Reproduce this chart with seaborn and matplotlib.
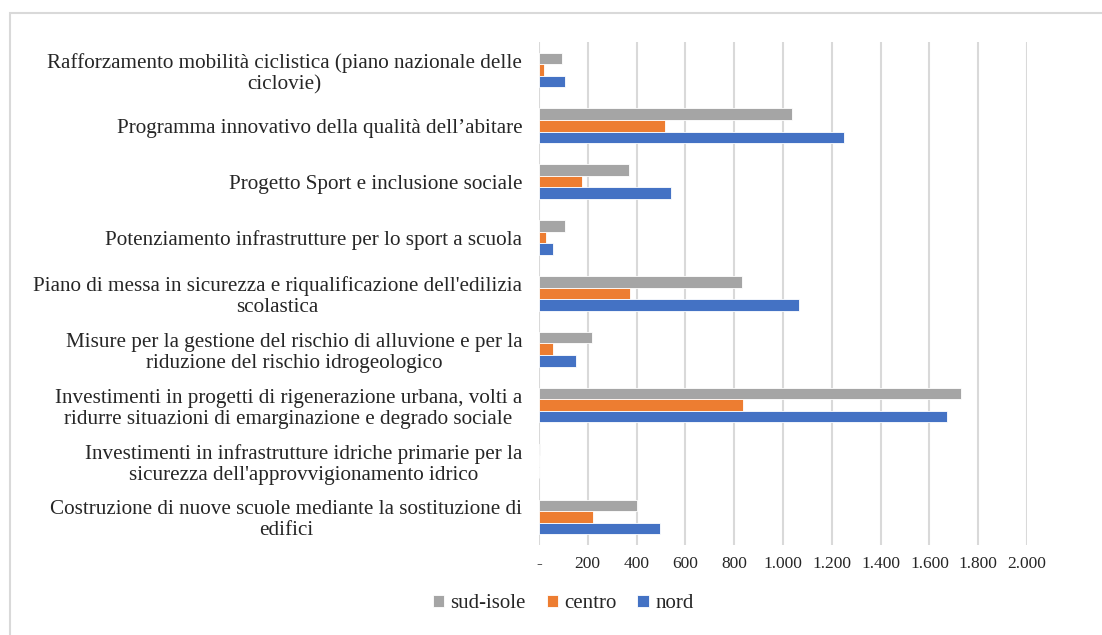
import pandas as pd
import matplotlib.pyplot as plt
import matplotlib.ticker as mticker
from matplotlib.patches import Rectangle
import seaborn as sns

# ── 1. Data ───────────────────────────────────────────────────
categories = [
    "Rafforzamento mobilità ciclistica (piano nazionale delle\nciclovie)",
    "Programma innovativo della qualità dell’abitare",
    "Progetto Sport e inclusione sociale",
    "Potenziamento infrastrutture per lo sport a scuola",
    "Piano di messa in sicurezza e riqualificazione dell'edilizia\nscolastica",
    "Misure per la gestione del rischio di alluvione e per la\nriduzione del rischio idrogeologico",
    "Investimenti in progetti di rigenerazione urbana, volti a\nridurre situazioni di emarginazione e degrado sociale",
    "Investimenti in infrastrutture idriche primarie per la\nsicurezza dell'approvvigionamento idrico",
    "Costruzione di nuove scuole mediante la sostituzione di\nedifici",
]
sud_isole = [95, 1037, 369, 107, 831, 219, 1729, 6, 401]
centro = [19, 517, 175, 31, 374, 57, 835, 1, 222]
nord = [107, 1250, 543, 56, 1065, 154, 1673, 2, 498]

series = ["sud-isole", "centro", "nord"]
colors = ["#A5A5A5", "#ED7D31", "#4472C4"]

df = pd.DataFrame({"categoria": categories, "sud-isole": sud_isole,
                   "centro": centro, "nord": nord})
long_df = df.melt(id_vars="categoria", var_name="area", value_name="valore")

# ── 2. Plot ───────────────────────────────────────────────────
sns.set_style("white")
plt.rcParams["font.family"] = ["Liberation Serif", "DejaVu Serif"]

fig = plt.figure(figsize=(11.02, 6.35), dpi=100)
ax = fig.add_axes([0.489, 0.142, 0.443, 0.792])

sns.barplot(data=long_df, y="categoria", x="valore", hue="area",
            order=categories, hue_order=series, palette=colors,
            saturation=1, orient="h", width=0.62, gap=0,
            edgecolor="white", linewidth=0.6, ax=ax)

ax.set_xlim(0, 2000)
ax.xaxis.set_major_locator(mticker.MultipleLocator(200))
ax.xaxis.set_major_formatter(mticker.FuncFormatter(
    lambda v, p: "-" if v == 0 else f"{int(v):,}".replace(",", ".")))
ax.grid(axis="x", color="#D9D9D9", linewidth=1.5)
ax.set_axisbelow(True)
for s in ax.spines.values():
    s.set_visible(False)
ax.tick_params(axis="both", length=0)
ax.tick_params(axis="x", labelsize=12.5, colors="#262626", pad=8)
ax.tick_params(axis="y", labelsize=15.2, pad=12)
for t in ax.get_yticklabels():
    t.set_multialignment("center")
    t.set_linespacing(1.15)
ax.set_xlabel("")
ax.set_ylabel("")

# legend at the bottom
handles, labels = ax.get_legend_handles_labels()
ax.get_legend().remove()
leg = fig.legend(handles, labels, loc="center", bbox_to_anchor=(0.511, 0.049),
                 ncol=3, frameon=False, fontsize=15,
                 handlelength=0.55, handleheight=0.55, handletextpad=0.3,
                 columnspacing=1.0)
for t in leg.get_texts():
    t.set_fontfamily(["Liberation Serif", "DejaVu Serif"])

# outer chart frame
fig.patches.append(Rectangle((10 / 1102, -0.1), 1.2, 0.1 + (635 - 13) / 635,
                             transform=fig.transFigure, fill=False,
                             edgecolor="#D9D9D9", linewidth=1.5))

fig.savefig("out.png", dpi=100)
